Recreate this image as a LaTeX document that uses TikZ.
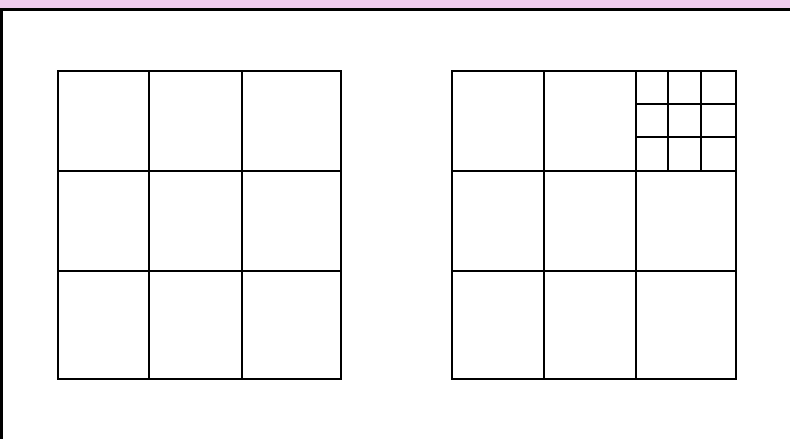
\documentclass[tikz,border=0pt]{standalone}
\definecolor{pinkband}{RGB}{240,204,238}
\tikzset{gridline/.style={line width=2pt, black, line cap=rect}}
\begin{document}
\begin{tikzpicture}[x=1pt,y=-1pt]
\useasboundingbox (0,0) rectangle (790,439);
\fill[white] (0,0) rectangle (790,439);
\fill[pinkband] (0,0) rectangle (790,8);
\fill[black] (0,8) rectangle (790,10.5);
\fill[black] (0,8) rectangle (2.5,439);
% left grid
\foreach \x in {58,149,242,341} \draw[gridline] (\x,71) -- (\x,379);
\foreach \y in {71,171,271,379} \draw[gridline] (58,\y) -- (341,\y);
% right grid
\foreach \x in {452,544,636,736} \draw[gridline] (\x,71) -- (\x,379);
\foreach \y in {71,171,271,379} \draw[gridline] (452,\y) -- (736,\y);
% subdivided cell
\foreach \x in {668,701} \draw[gridline] (\x,71) -- (\x,171);
\foreach \y in {104,137} \draw[gridline] (636,\y) -- (736,\y);
\end{tikzpicture}
\end{document}
